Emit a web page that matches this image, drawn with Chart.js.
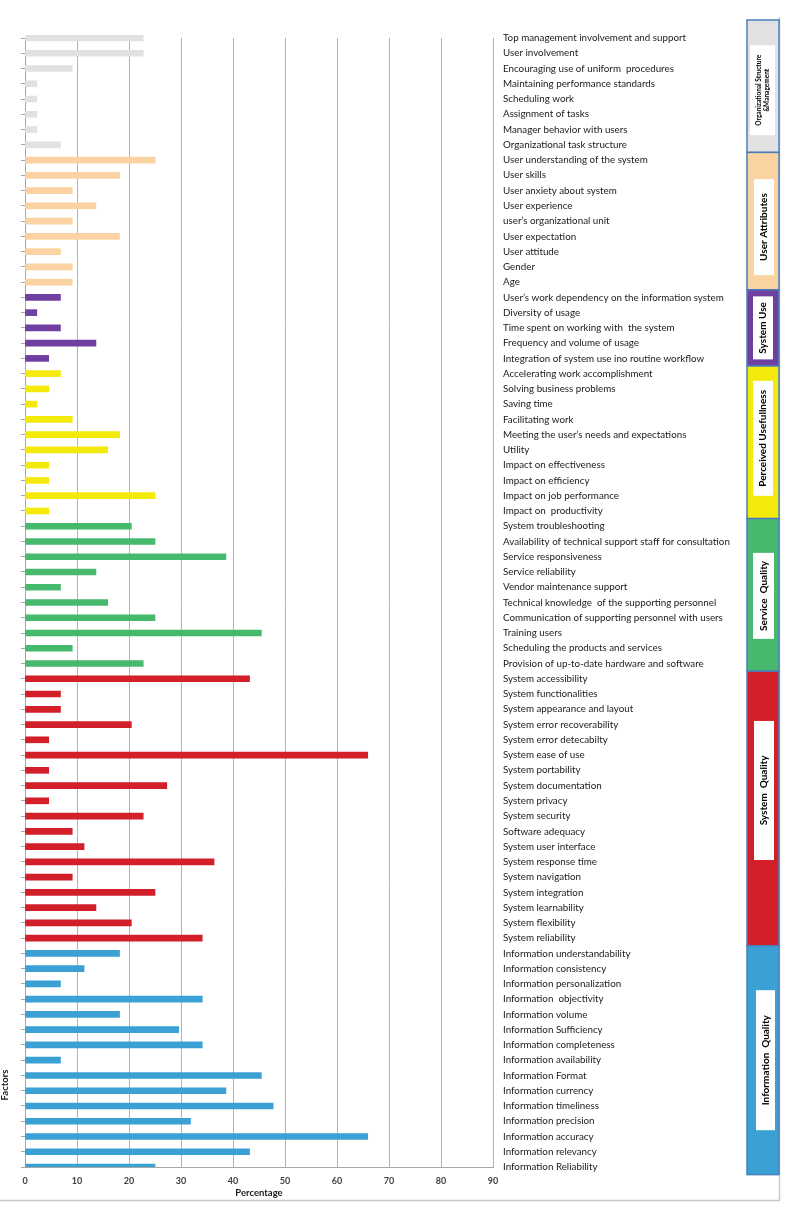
<!DOCTYPE html>
<html>
<head>
<meta charset="utf-8">
<script src="https://cdn.jsdelivr.net/npm/chart.js@4"></script>
<style>
  html, body { margin: 0; padding: 0; background: #ffffff; }
  #wrap { width: 787px; height: 1223px; }
</style>
</head>
<body>
<div id="wrap"><canvas id="c" width="787" height="1223"></canvas></div>
<script>
const categories = [
  "Top management involvement and support",
  "User involvement",
  "Encouraging use of uniform  procedures",
  "Maintaining performance standards",
  "Scheduling work",
  "Assignment of tasks",
  "Manager behavior with users",
  "Organizational task structure",
  "User understanding of the system",
  "User skills",
  "User anxiety about system",
  "User experience",
  "user’s organizational unit",
  "User expectation",
  "User attitude",
  "Gender",
  "Age",
  "User’s work dependency on the information system",
  "Diversity of usage",
  "Time spent on working with  the system",
  "Frequency and volume of usage",
  "Integration of system use ino routine workflow",
  "Accelerating work accomplishment",
  "Solving business problems",
  "Saving time",
  "Facilitating work",
  "Meeting the user’s needs and expectations",
  "Utility",
  "Impact on effectiveness",
  "Impact on efficiency",
  "Impact on job performance",
  "Impact on  productivity",
  "System troubleshooting",
  "Availability of technical support staff for consultation",
  "Service responsiveness",
  "Service reliability",
  "Vendor maintenance support",
  "Technical knowledge  of the supporting personnel",
  "Communication of supporting personnel with users",
  "Training users",
  "Scheduling the products and services",
  "Provision of up-to-date hardware and software",
  "System accessibility",
  "System functionalities",
  "System appearance and layout",
  "System error recoverability",
  "System error detecabilty",
  "System ease of use",
  "System portability",
  "System documentation",
  "System privacy",
  "System security",
  "Software adequacy",
  "System user interface",
  "System response time",
  "System navigation",
  "System integration",
  "System learnability",
  "System flexibility",
  "System reliability",
  "Information understandability",
  "Information consistency",
  "Information personalization",
  "Information  objectivity",
  "Information volume",
  "Information Sufficiency",
  "Information completeness",
  "Information availability",
  "Information Format",
  "Information currency",
  "Information timeliness",
  "Information precision",
  "Information accuracy",
  "Information relevancy",
  "Information Reliability"
];

const percentages = [
  22.73, 22.73, 9.09, 2.27, 2.27, 2.27, 2.27, 6.82,
  25.00, 18.18, 9.09, 13.64, 9.09, 18.18, 6.82, 9.09, 9.09,
  6.82, 2.27, 6.82, 13.64, 4.55,
  6.82, 4.55, 2.27, 9.09, 18.18, 15.91, 4.55, 4.55, 25.00, 4.55,
  20.45, 25.00, 38.64, 13.64, 6.82, 15.91, 25.00, 45.45, 9.09, 22.73,
  43.18, 6.82, 6.82, 20.45, 4.55, 65.91, 4.55, 27.27, 4.55, 22.73, 9.09, 11.36, 36.36, 9.09, 25.00, 13.64, 20.45, 34.09,
  18.18, 11.36, 6.82, 34.09, 18.18, 29.55, 34.09, 6.82, 45.45, 38.64, 47.73, 31.82, 65.91, 43.18, 25.00
];

const groupNames = [
  ["Organizational Structure", "&Management"],
  ["User Attributes"],
  ["System Use"],
  ["Perceived Usefullness"],
  ["Service  Quality"],
  ["System  Quality"],
  ["Information  Quality"]
];
const groupSizes = [8, 9, 5, 10, 10, 18, 15];
const groupColors = ["#e1e1e1", "#fbd3a2", "#7040a0", "#f3e90a", "#47b96c", "#d21f29", "#3ba0d4"];

const xTicks = [0, 10, 20, 30, 40, 50, 60, 70, 80, 90];

// style-only settings for the side boxes
const innerBoxHeights = [90, 96, 63, 115, 86, 139, 140];
const innerBoxShift = [4, 6, 0, -4, 1, -18, 0];
const innerBoxWidths = [25, 20, 20, 20, 21, 20, 19];
const innerBoxLeft = [750, 754, 753, 753, 753, 754, 756];

const barColors = [];
groupSizes.forEach((n, g) => { for (let i = 0; i < n; i++) barColors.push(groupColors[g]); });

const FONT = "Lato, 'Open Sans', 'DejaVu Sans', sans-serif";

const sidePlugin = {
  id: 'sideBoxes',
  afterDraw(chart) {
    const ctx = chart.ctx;
    const ys = chart.scales.y;
    const pitch = ys.getPixelForValue(1) - ys.getPixelForValue(0);
    ctx.save();
    // frame
    ctx.strokeStyle = "#c9c9c9";
    ctx.lineWidth = 1.5;
    ctx.beginPath();
    ctx.moveTo(0, 1200.5);
    ctx.lineTo(779.5, 1200.5);
    ctx.lineTo(779.5, 17);
    ctx.stroke();

    let start = 0;
    groupSizes.forEach((n, g) => {
      const end = start + n - 1;
      let top = ys.getPixelForValue(start) - pitch / 2;
      if (g === 0) top = chart.chartArea.top - 18;
      const bottom = ys.getPixelForValue(end) + pitch / 2;
      const x0 = 747, w = 32;
      ctx.fillStyle = groupColors[g];
      ctx.fillRect(x0, top, w, bottom - top);
      ctx.strokeStyle = "#4a7ebb";
      ctx.lineWidth = 1.5;
      ctx.strokeRect(x0, top, w, bottom - top);
      const mid = (top + bottom) / 2 + innerBoxShift[g];
      const ih = innerBoxHeights[g];
      const iw = innerBoxWidths[g];
      const ix = innerBoxLeft[g];
      ctx.fillStyle = "#ffffff";
      ctx.fillRect(ix, mid - ih / 2, iw, ih);
      ctx.save();
      ctx.translate(ix + iw / 2, mid);
      ctx.rotate(-Math.PI / 2);
      ctx.fillStyle = "#000000";
      ctx.textAlign = "center";
      ctx.textBaseline = "middle";
      const lines = groupNames[g];
      if (lines.length > 1) {
        ctx.font = "bold 6.5px " + FONT;
        ctx.fillText(lines[0], 0, -4);
        ctx.fillText(lines[1], 0, 4);
      } else {
        ctx.font = "bold 10px " + FONT;
        ctx.fillText(lines[0], 0, 0);
      }
      ctx.restore();
      start += n;
    });

    ctx.save();
    ctx.translate(5, 1085);
    ctx.rotate(-Math.PI / 2);
    ctx.font = "bold 9.5px " + FONT;
    ctx.fillStyle = "#1a1a1a";
    ctx.textAlign = "center";
    ctx.textBaseline = "middle";
    ctx.fillText("Factors", 0, 0);
    ctx.restore();
    ctx.restore();
  }
};

new Chart(document.getElementById('c'), {
  type: 'bar',
  data: {
    labels: categories,
    datasets: [{
      data: percentages,
      backgroundColor: barColors,
      borderWidth: 0,
      barThickness: 6,
      clip: { left: 0, top: 3, right: 0, bottom: 0 }
    }]
  },
  options: {
    indexAxis: 'y',
    responsive: false,
    devicePixelRatio: 1,
    animation: false,
    layout: { padding: { top: 38, left: 0, right: 0, bottom: 0 } },
    plugins: { legend: { display: false }, tooltip: { enabled: false } },
    scales: {
      x: {
        type: 'linear',
        position: 'bottom',
        min: 0, max: 90,
        afterBuildTicks(scale) { scale.ticks = xTicks.map(v => ({ value: v })); },
        afterFit(scale) { scale.height = 56; },
        grid: { color: "#b3b3b3", lineWidth: 1, drawTicks: false },
        border: { color: "#a6a6a6" },
        ticks: { padding: 9, color: "#404040", font: { family: FONT, size: 9, weight: 'bold' } },
        title: {
          display: true, text: "Percentage", color: "#1a1a1a",
          font: { family: FONT, size: 9.5, weight: 'bold' },
          padding: { top: 0, bottom: 24 }
        }
      },
      y: {
        type: 'category',
        position: 'left',
        offset: false,
        afterFit(scale) { scale.width = 25; },
        grid: { offset: false, drawOnChartArea: false, drawTicks: true, tickLength: 4, color: "#a6a6a6" },
        border: { color: "#a6a6a6" },
        ticks: { display: false, autoSkip: false }
      },
      y2: {
        type: 'category',
        position: 'right',
        offset: false,
        labels: categories,
        afterFit(scale) { scale.width = 294; },
        grid: { display: false, offset: false },
        border: { display: false },
        ticks: { autoSkip: false, padding: 2, color: "#1a1a1a", font: { family: FONT, size: 9.8 } }
      }
    }
  },
  plugins: [sidePlugin]
});
</script>
</body>
</html>
